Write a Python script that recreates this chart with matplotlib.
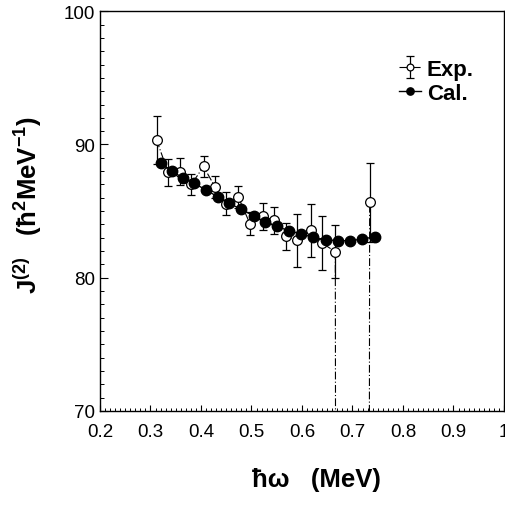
import numpy as np
import matplotlib
matplotlib.use('Agg')
import matplotlib.pyplot as plt
from matplotlib.ticker import MultipleLocator, FuncFormatter

plt.rcParams['font.family'] = ['Liberation Sans', 'DejaVu Sans']
plt.rcParams['mathtext.fontset'] = 'custom'
plt.rcParams['mathtext.rm'] = 'Liberation Sans'
plt.rcParams['mathtext.bf'] = 'Liberation Sans:bold'
plt.rcParams['mathtext.it'] = 'Liberation Sans:italic'

# Experimental J(2) (the point at 0.70 lies far below the frame, near the backbend)
exp_x = [0.312, 0.335, 0.358, 0.381, 0.405, 0.428, 0.450, 0.474, 0.497, 0.522,
         0.545, 0.568, 0.591, 0.617, 0.640, 0.666, 0.700, 0.734]
exp_y = [90.35, 87.9, 87.95, 87.0, 88.35, 86.8, 85.55, 86.05, 84.05, 84.6,
         84.3, 83.1, 82.8, 83.55, 82.6, 81.95, -1000.0, 85.65]
exp_err = [1.8, 1.0, 1.0, 0.8, 0.8, 0.8, 0.85, 0.85, 0.87, 1.0,
           1.0, 1.0, 2.0, 1.97, 2.0, 2.0, 0.0, 2.95]

# Calculated J(2)
cal_x = [0.320, 0.342, 0.364, 0.387, 0.410, 0.433, 0.456, 0.479, 0.504, 0.527,
         0.550, 0.574, 0.599, 0.622, 0.647, 0.672, 0.695, 0.719, 0.745]
cal_y = [88.58, 88.03, 87.48, 87.08, 86.58, 86.08, 85.58, 85.15, 84.65, 84.2,
         83.85, 83.53, 83.28, 83.03, 82.85, 82.78, 82.78, 82.9, 83.08]

fig = plt.figure(figsize=(5.06, 5.06), dpi=100)
ax = fig.add_axes([0.1976, 0.1858, 0.7984, 0.790])

exp = ax.errorbar(exp_x, exp_y, yerr=exp_err, fmt='o', color='black',
                  ls=(0, (7, 2, 1, 2)), lw=0.8, elinewidth=0.9, capsize=3,
                  capthick=0.9, markersize=7, markerfacecolor='white',
                  markeredgecolor='black', markeredgewidth=0.9, zorder=2,
                  label='Exp.')
cal, = ax.plot(cal_x, cal_y, 'o-', color='black', lw=1.0, markersize=7.5,
               zorder=3, label='Cal.')

ax.set_xlim(0.2, 1.0)
ax.set_ylim(70, 100)
ax.xaxis.set_major_locator(MultipleLocator(0.1))
ax.xaxis.set_minor_locator(MultipleLocator(0.01))
ax.yaxis.set_major_locator(MultipleLocator(10))
ax.yaxis.set_minor_locator(MultipleLocator(1))
ax.xaxis.set_major_formatter(FuncFormatter(lambda v, p: '1' if abs(v - 1) < 1e-6 else f'{v:.1f}'))
ax.tick_params(axis='x', which='major', direction='in', length=4.5, width=0.8,
               labelsize=13.5, pad=8.5)
ax.tick_params(axis='x', which='minor', direction='in', length=2.2, width=0.7)
ax.tick_params(axis='y', which='major', direction='in', length=6, width=0.8,
               labelsize=13.5, pad=3.5)
ax.tick_params(axis='y', which='minor', direction='in', length=3, width=0.7)
for s in ax.spines.values():
    s.set_linewidth(1.0)

ax.set_xlabel('ħω   (MeV)', fontsize=18.5, fontweight='bold')
ax.xaxis.set_label_coords(0.535, -0.14)
ax.set_ylabel(r'J$^{\mathbf{(2)}}$   (ħ$^{\mathbf{2}}$MeV$^{\mathbf{-1}}$)',
              fontsize=18.5, fontweight='bold')
ax.yaxis.set_label_coords(-0.138, 0.5175)

ax.legend(handles=[exp, cal], loc='center left', bbox_to_anchor=(0.74, 0.825),
          frameon=False, fontsize=16, handlelength=1.0, handletextpad=0.25,
          labelspacing=0.12, markerscale=0.7, borderpad=0, borderaxespad=0,
          prop={'weight': 'bold', 'size': 16})

fig.savefig('out.png', dpi=100)
